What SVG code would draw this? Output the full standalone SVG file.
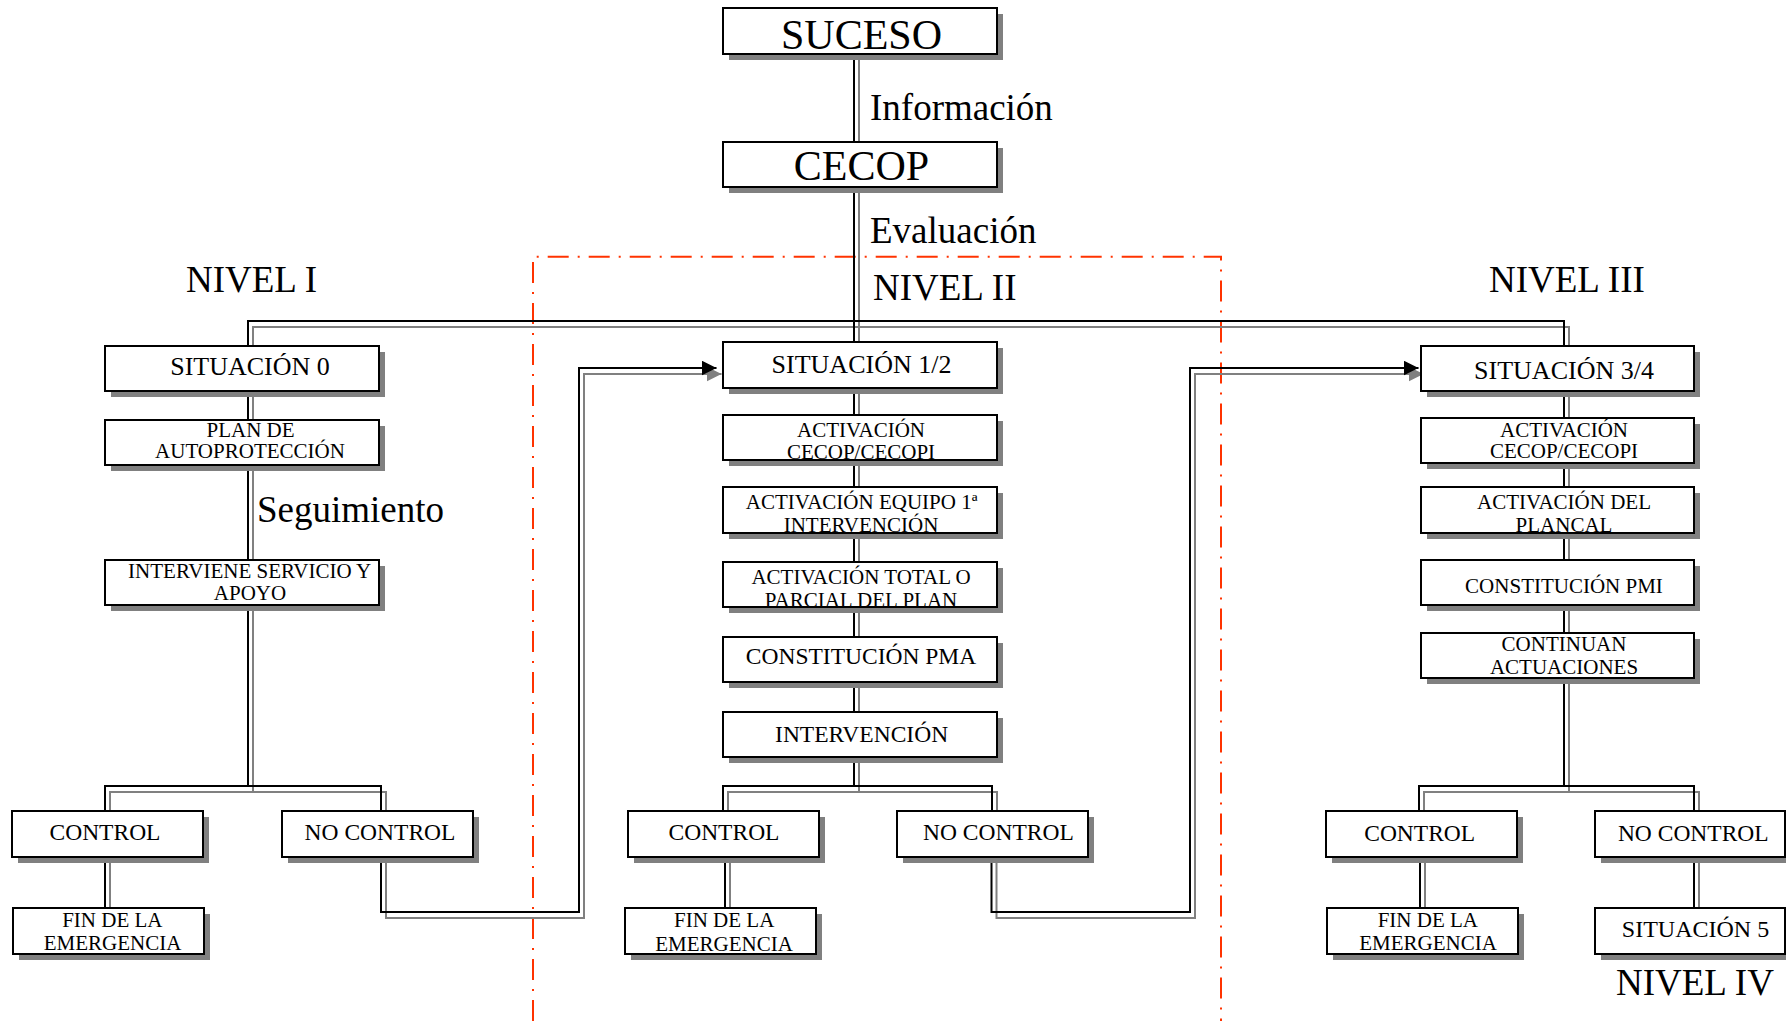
<svg xmlns="http://www.w3.org/2000/svg" width="1786" height="1021" viewBox="0 0 1786 1021">
<style>
  .bx{fill:#fff;stroke:#000;stroke-width:2}
  .sh{fill:#808080}
  .t{font-family:"Liberation Serif","Times New Roman",serif;fill:#000;text-anchor:middle}
  .big{font-size:42px}
  .sit{font-size:26px}
  .md{font-size:23.5px}
  .sm{font-size:21px}
  .lbl{font-family:"Liberation Serif","Times New Roman",serif;font-size:37px;fill:#000}
  .wb{fill:none;stroke:#000;stroke-width:2}
  .wg{fill:none;stroke:#808080;stroke-width:2}
  .zone{fill:none;stroke:#ff3300;stroke-width:2;stroke-dasharray:21 9 2 9}
</style>
<defs>
  <marker id="ab" markerUnits="userSpaceOnUse" viewBox="0 0 15 15" refX="15" refY="7.5" markerWidth="15" markerHeight="15" orient="auto"><path d="M0,0 L15,7.5 L0,15 z" fill="#000"/></marker>
  <marker id="ag" markerUnits="userSpaceOnUse" viewBox="0 0 15 15" refX="15" refY="7.5" markerWidth="15" markerHeight="15" orient="auto"><path d="M0,0 L15,7.5 L0,15 z" fill="#808080"/></marker>
  <clipPath id="c-plan"><rect x="106" y="421" width="272" height="43"/></clipPath>
  <clipPath id="c-int"><rect x="106" y="561" width="272" height="43"/></clipPath>
  <clipPath id="c-acc"><rect x="724" y="416" width="272" height="43"/></clipPath>
  <clipPath id="c-aeq"><rect x="724" y="488" width="272" height="44"/></clipPath>
  <clipPath id="c-atot"><rect x="724" y="563" width="272" height="43"/></clipPath>
  <clipPath id="c-accr"><rect x="1422" y="419" width="271" height="43"/></clipPath>
  <clipPath id="c-plc"><rect x="1422" y="488" width="271" height="44"/></clipPath>
  <clipPath id="c-cont"><rect x="1422" y="634" width="271" height="43"/></clipPath>
</defs>

<rect width="1786" height="1021" fill="#fff"/>

<!-- NIVEL II zone -->
<path class="zone" d="M533,1021 V256.7 H1221 V1021"/>

<!-- connectors -->
<g id="connectors">
  <g transform="translate(5,6)">
    <path class="wg" d="M854,54 V142"/>
    <path class="wg" d="M854,187 V342"/>
    <path class="wg" d="M248,346 V321 H1564 V346"/>
    <path class="wg" d="M248,391 V420"/>
    <path class="wg" d="M248,465 V560"/>
    <path class="wg" d="M248,605 V786"/>
    <path class="wg" d="M105,811 V786 H381 V811"/>
    <path class="wg" d="M105,857 V908"/>
    <path class="wg" d="M381,857 V912 H579 V368 H716.5" marker-end="url(#ag)"/>
    <path class="wg" d="M854,388 V415 M854,460 V487 M854,533 V562 M854,607 V637 M854,682 V712 M854,757 V786"/>
    <path class="wg" d="M723,811 V786 H992 V811"/>
    <path class="wg" d="M725,857 V908"/>
    <path class="wg" d="M991.5,857 V912 H1190 V368 H1418.5" marker-end="url(#ag)"/>
    <path class="wg" d="M1564,391 V418 M1564,463 V487 M1564,533 V560 M1564,605 V633 M1564,678 V786"/>
    <path class="wg" d="M1419,811 V786 H1694 V811"/>
    <path class="wg" d="M1420,857 V908 M1694,857 V908"/>
  </g>
  <g>
    <path class="wb" d="M854,54 V142"/>
    <path class="wb" d="M854,187 V342"/>
    <path class="wb" d="M248,346 V321 H1564 V346"/>
    <path class="wb" d="M248,391 V420"/>
    <path class="wb" d="M248,465 V560"/>
    <path class="wb" d="M248,605 V786"/>
    <path class="wb" d="M105,811 V786 H381 V811"/>
    <path class="wb" d="M105,857 V908"/>
    <path class="wb" d="M381,857 V912 H579 V368 H716.5" marker-end="url(#ab)"/>
    <path class="wb" d="M854,388 V415 M854,460 V487 M854,533 V562 M854,607 V637 M854,682 V712 M854,757 V786"/>
    <path class="wb" d="M723,811 V786 H992 V811"/>
    <path class="wb" d="M725,857 V908"/>
    <path class="wb" d="M991.5,857 V912 H1190 V368 H1418.5" marker-end="url(#ab)"/>
    <path class="wb" d="M1564,391 V418 M1564,463 V487 M1564,533 V560 M1564,605 V633 M1564,678 V786"/>
    <path class="wb" d="M1419,811 V786 H1694 V811"/>
    <path class="wb" d="M1420,857 V908 M1694,857 V908"/>
  </g>
</g>

<!-- labels -->
<text class="lbl" x="870" y="120">Información</text>
<text class="lbl" x="870" y="243">Evaluación</text>
<text class="lbl" x="873" y="300">NIVEL II</text>
<text class="lbl" x="186" y="291.7">NIVEL I</text>
<text class="lbl" x="1489" y="291.7">NIVEL III</text>
<text class="lbl" x="1616" y="995">NIVEL IV</text>
<text class="lbl" x="257" y="521.7">Seguimiento</text>

<!-- top nodes -->
<g id="suceso"><rect class="sh" x="729" y="14" width="274" height="46"/><rect class="bx" x="723" y="8" width="274" height="46"/><text class="t big" x="861.5" y="49">SUCESO</text></g>
<g id="cecop"><rect class="sh" x="729" y="148" width="274" height="45"/><rect class="bx" x="723" y="142" width="274" height="45"/><text class="t big" x="861.5" y="180">CECOP</text></g>

<!-- NIVEL I -->
<g id="situacion-0"><rect class="sh" x="111" y="352" width="274" height="45"/><rect class="bx" x="105" y="346" width="274" height="45"/><text class="t sit" x="250" y="375">SITUACIÓN 0</text></g>
<g id="plan-autoproteccion"><rect class="sh" x="111" y="426" width="274" height="45"/><rect class="bx" x="105" y="420" width="274" height="45"/><g clip-path="url(#c-plan)"><text class="t sm" x="250.5" y="436.7">PLAN DE</text><text class="t sm" x="250" y="457.7">AUTOPROTECCIÓN</text></g></g>
<g id="interviene-servicio"><rect class="sh" x="111" y="566" width="274" height="45"/><rect class="bx" x="105" y="560" width="274" height="45"/><g clip-path="url(#c-int)"><text class="t sm" x="249.7" y="578.3">INTERVIENE SERVICIO Y</text><text class="t sm" x="250" y="600">APOYO</text></g></g>
<g id="control-1"><rect class="sh" x="18" y="817" width="191" height="46"/><rect class="bx" x="12" y="811" width="191" height="46"/><text class="t md" x="105" y="840">CONTROL</text></g>
<g id="no-control-1"><rect class="sh" x="288" y="817" width="191" height="46"/><rect class="bx" x="282" y="811" width="191" height="46"/><text class="t md" x="380" y="840">NO CONTROL</text></g>
<g id="fin-1"><rect class="sh" x="19" y="914" width="191" height="46"/><rect class="bx" x="13" y="908" width="191" height="46"/><text class="t sm" x="112.3" y="926.7">FIN DE LA</text><text class="t sm" x="112.5" y="950">EMERGENCIA</text></g>

<!-- NIVEL II -->
<g id="situacion-1-2"><rect class="sh" x="729" y="348" width="274" height="46"/><rect class="bx" x="723" y="342" width="274" height="46"/><text class="t sit" x="861.5" y="373.3">SITUACIÓN 1/2</text></g>
<g id="activacion-cecop-2"><rect class="sh" x="729" y="421" width="274" height="45"/><rect class="bx" x="723" y="415" width="274" height="45"/><g clip-path="url(#c-acc)"><text class="t sm" x="861" y="436.7">ACTIVACIÓN</text><text class="t sm" x="861" y="459">CECOP/CECOPI</text></g></g>
<g id="activacion-equipo"><rect class="sh" x="729" y="493" width="274" height="46"/><rect class="bx" x="723" y="487" width="274" height="46"/><g clip-path="url(#c-aeq)"><text class="t sm" x="861.6" y="509.3">ACTIVACIÓN EQUIPO 1ª</text><text class="t sm" x="861" y="532">INTERVENCIÓN</text></g></g>
<g id="activacion-total"><rect class="sh" x="729" y="568" width="274" height="45"/><rect class="bx" x="723" y="562" width="274" height="45"/><g clip-path="url(#c-atot)"><text class="t sm" x="861" y="584">ACTIVACIÓN TOTAL O</text><text class="t sm" x="861" y="606.7">PARCIAL DEL PLAN</text></g></g>
<g id="constitucion-pma"><rect class="sh" x="729" y="643" width="274" height="45"/><rect class="bx" x="723" y="637" width="274" height="45"/><text class="t md" x="861" y="664.3">CONSTITUCIÓN PMA</text></g>
<g id="intervencion"><rect class="sh" x="729" y="718" width="274" height="45"/><rect class="bx" x="723" y="712" width="274" height="45"/><text class="t md" x="861.6" y="742.3">INTERVENCIÓN</text></g>
<g id="control-2"><rect class="sh" x="634" y="817" width="191" height="46"/><rect class="bx" x="628" y="811" width="191" height="46"/><text class="t md" x="724" y="840">CONTROL</text></g>
<g id="no-control-2"><rect class="sh" x="903" y="817" width="191" height="46"/><rect class="bx" x="897" y="811" width="191" height="46"/><text class="t md" x="998.4" y="840">NO CONTROL</text></g>
<g id="fin-2"><rect class="sh" x="631" y="914" width="191" height="46"/><rect class="bx" x="625" y="908" width="191" height="46"/><text class="t sm" x="724.2" y="926.7">FIN DE LA</text><text class="t sm" x="724" y="950.5">EMERGENCIA</text></g>

<!-- NIVEL III -->
<g id="situacion-3-4"><rect class="sh" x="1427" y="352" width="273" height="45"/><rect class="bx" x="1421" y="346" width="273" height="45"/><text class="t sit" x="1564" y="379.3">SITUACIÓN 3/4</text></g>
<g id="activacion-cecop-3"><rect class="sh" x="1427" y="424" width="273" height="45"/><rect class="bx" x="1421" y="418" width="273" height="45"/><g clip-path="url(#c-accr)"><text class="t sm" x="1564" y="436.5">ACTIVACIÓN</text><text class="t sm" x="1564" y="458">CECOP/CECOPI</text></g></g>
<g id="activacion-plancal"><rect class="sh" x="1427" y="493" width="273" height="46"/><rect class="bx" x="1421" y="487" width="273" height="46"/><g clip-path="url(#c-plc)"><text class="t sm" x="1564" y="509">ACTIVACIÓN DEL</text><text class="t sm" x="1564" y="531.7">PLANCAL</text></g></g>
<g id="constitucion-pmi"><rect class="sh" x="1427" y="566" width="273" height="45"/><rect class="bx" x="1421" y="560" width="273" height="45"/><text class="t sm" x="1564" y="592.7">CONSTITUCIÓN PMI</text></g>
<g id="continuan-actuaciones"><rect class="sh" x="1427" y="639" width="273" height="45"/><rect class="bx" x="1421" y="633" width="273" height="45"/><g clip-path="url(#c-cont)"><text class="t sm" x="1564" y="651">CONTINUAN</text><text class="t sm" x="1564" y="674.3">ACTUACIONES</text></g></g>
<g id="control-3"><rect class="sh" x="1332" y="817" width="191" height="46"/><rect class="bx" x="1326" y="811" width="191" height="46"/><text class="t md" x="1419.7" y="841">CONTROL</text></g>
<g id="no-control-3"><rect class="sh" x="1601" y="817" width="190" height="46"/><rect class="bx" x="1595" y="811" width="190" height="46"/><text class="t md" x="1693.3" y="841">NO CONTROL</text></g>
<g id="fin-3"><rect class="sh" x="1333" y="914" width="191" height="46"/><rect class="bx" x="1327" y="908" width="191" height="46"/><text class="t sm" x="1427.8" y="926.7">FIN DE LA</text><text class="t sm" x="1428" y="950">EMERGENCIA</text></g>
<g id="situacion-5"><rect class="sh" x="1601" y="914" width="190" height="46"/><rect class="bx" x="1595" y="908" width="190" height="46"/><text class="t md" x="1695.5" y="937.3" style="font-size:24px">SITUACIÓN 5</text></g>
</svg>
